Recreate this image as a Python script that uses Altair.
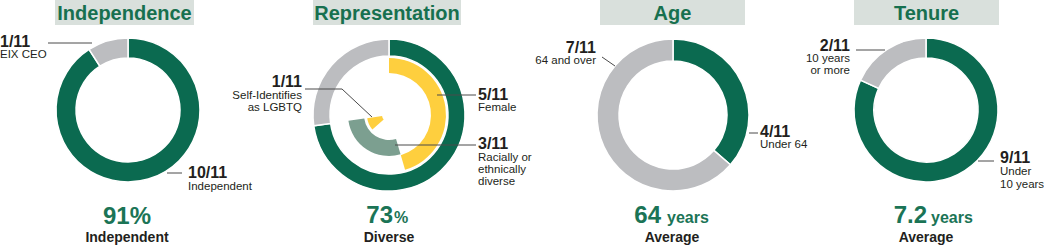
import altair as alt
import pandas as pd

TOTAL = 11
panels = ["Independence", "Representation", "Age", "Tenure"]

independence_labels = ["Independent", "EIX CEO"]
independence_counts = [10, 1]
representation_labels = ["Diverse", "Not diverse"]
representation_counts = [8, 3]
diversity_labels = ["Female", "Racially or ethnically diverse", "Self-Identifies as LGBTQ"]
diversity_counts = [5, 3, 1]
diversity_starts = [0, 5, 7]
age_labels = ["Under 64", "64 and over"]
age_counts = [4, 7]
tenure_labels = ["Under 10 years", "10 years or more"]
tenure_counts = [9, 2]
average_age = 64
average_tenure = 7.2

GREEN = "#0b6a50"
GRAY = "#bcbdc0"
YELLOW = "#fecf3e"
TEAL = "#7c9f90"
TITLE_BG = "#d9e0dc"
TITLE_FG = "#17704f"
BIG = "#1b7456"
DARK = "#231f20"
LINE = "#4a4a4a"
FONT = "Liberation Sans"
SMALL = 11.5

tones = ["green", "gray", "yellow", "teal"]
tone_colors = [GREEN, GRAY, YELLOW, TEAL]

rows = []


def add_stack(panel, ring, labels, counts, tone_list):
    s = 0
    for lab, c, t in zip(labels, counts, tone_list):
        rows.append(dict(panel=panel, ring=ring, label=lab, start=s, end=s + c, tone=t))
        s += c


add_stack("Independence", "main", independence_labels, independence_counts, ["green", "gray"])
add_stack("Representation", "main", representation_labels, representation_counts, ["green", "gray"])
for lab, c, st, t, ring in zip(diversity_labels, diversity_counts, diversity_starts,
                               ["yellow", "teal", "yellow"], ["female", "racial", "lgbtq"]):
    rows.append(dict(panel="Representation", ring=ring, label=lab, start=st, end=st + c, tone=t))
add_stack("Age", "main", age_labels, age_counts, ["green", "gray"])
add_stack("Tenure", "main", tenure_labels, tenure_counts, ["green", "gray"])
seg = pd.DataFrame(rows)

one = pd.DataFrame({"k": [0]})
layers = []


def arcs(panel, ring, cx, cy, r_out, r_in, stroke=True):
    kw = dict(radius=r_out, radius2=r_in)
    if stroke:
        kw.update(stroke="white", strokeWidth=1.5)
    return alt.Chart(seg).transform_filter(
        (alt.datum.panel == panel) & (alt.datum.ring == ring)
    ).mark_arc(**kw).encode(
        theta=alt.Theta("start:Q", scale=alt.Scale(domain=[0, TOTAL])),
        theta2="end:Q",
        color=alt.Color("tone:N", scale=alt.Scale(domain=tones, range=tone_colors), legend=None),
        x=alt.value(cx),
        y=alt.value(cy),
    )


def txt(s, x, y, size, bold=False, align="left", color=DARK):
    return alt.Chart(one).mark_text(
        text=s, font=FONT, fontSize=size, fontWeight="bold" if bold else "normal",
        align=align, baseline="alphabetic", color=color,
    ).encode(x=alt.value(x), y=alt.value(y))


def rule(x1, y1, x2, y2):
    return alt.Chart(one).mark_rule(color=LINE, strokeWidth=1).encode(
        x=alt.value(x1), y=alt.value(y1), x2=alt.value(x2), y2=alt.value(y2)
    )


def title_box(name, x1, x2):
    box = alt.Chart(one).mark_rect(color=TITLE_BG).encode(
        x=alt.value(x1), x2=alt.value(x2), y=alt.value(0), y2=alt.value(25)
    )
    return [box, txt(name, (x1 + x2) / 2, 20, 20, True, "center", TITLE_FG)]


def frac(n):
    return f"{n}/{TOTAL}"


# Panel 1: Independence
layers += title_box(panels[0], 55, 194)
layers.append(arcs("Independence", "main", 128, 110, 72, 52))
layers += [
    rule(48, 43, 92, 43),
    txt(frac(independence_counts[1]), 0, 47, 16, True),
    txt("EIX CEO", 0, 58, SMALL),
    rule(167, 173, 182, 173),
    txt(frac(independence_counts[0]), 188, 178, 16, True),
    txt(independence_labels[0], 188, 190, SMALL),
    txt(f"{round(independence_counts[0] / TOTAL * 100)}%", 127, 224, 24, True, "center", BIG),
    txt("Independent", 127, 242, 14, True, "center"),
]

# Panel 2: Representation
layers += title_box(panels[1], 313, 461)
layers += [
    arcs("Representation", "main", 389, 115, 76, 59),
    arcs("Representation", "female", 389, 115, 57, 42, False),
    arcs("Representation", "racial", 389, 115, 41, 25, False),
    arcs("Representation", "lgbtq", 389, 115, 22, 7, False),
]
layers += [
    rule(305, 89, 342, 89),
    rule(342, 89, 372, 117),
    txt(frac(diversity_counts[2]), 302, 87, 16, True, "right"),
    txt("Self-Identifies", 302, 99, SMALL, False, "right"),
    txt("as LGBTQ", 302, 111, SMALL, False, "right"),
    rule(437, 95, 476, 95),
    txt(frac(diversity_counts[0]), 478, 100, 16, True),
    txt("Female", 478, 111, SMALL),
    rule(395, 145, 476, 145),
    txt(frac(diversity_counts[1]), 478, 149, 16, True),
    txt("Racially or", 478, 161, SMALL),
    txt("ethnically", 478, 173, SMALL),
    txt("diverse", 478, 185, SMALL),
    txt(f"{round(representation_counts[0] / TOTAL * 100)}", 393, 223, 24, True, "right", BIG),
    txt("%", 394, 223, 16, True, "left", BIG),
    txt("Diverse", 389, 242, 14, True, "center"),
]

# Panel 3: Age
layers += title_box(panels[2], 600, 745)
layers.append(arcs("Age", "main", 673, 115, 76, 54))
layers += [
    rule(602, 57, 615, 66),
    txt(frac(age_counts[1]), 596, 53, 16, True, "right"),
    txt("64 and over", 596, 64, SMALL, False, "right"),
    rule(749, 133, 758, 133),
    txt(frac(age_counts[0]), 760, 137, 16, True),
    txt("Under 64", 760, 148, SMALL),
    txt(f"{average_age}", 661, 223, 24, True, "right", BIG),
    txt("years", 667, 223, 16, True, "left", BIG),
    txt("Average", 672, 242, 14, True, "center"),
]

# Panel 4: Tenure
layers += title_box(panels[3], 854, 999)
layers.append(arcs("Tenure", "main", 926, 110, 72, 52))
layers += [
    rule(856, 50, 885, 50),
    txt(frac(tenure_counts[1]), 850, 51, 16, True, "right"),
    txt("10 years", 850, 62, SMALL, False, "right"),
    txt("or more", 850, 74, SMALL, False, "right"),
    rule(978, 161, 994, 161),
    txt(frac(tenure_counts[0]), 1000, 163, 16, True),
    txt("Under", 1000, 175, SMALL),
    txt("10 years", 1000, 188, SMALL),
    txt(f"{average_tenure}", 927, 223, 24, True, "right", BIG),
    txt("years", 931, 223, 16, True, "left", BIG),
    txt("Average", 926, 242, 14, True, "center"),
]

chart = alt.layer(*layers).properties(
    width=1044, height=249, padding=0, background="white",
    autosize=alt.AutoSizeParams(type="none"),
).configure_view(stroke=None)

chart.save("out.html", embed_options={"renderer": "svg", "actions": False})
